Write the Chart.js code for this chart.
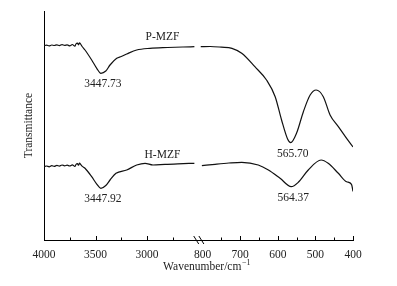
<!DOCTYPE html>
<html>
<head>
<meta charset="utf-8">
<script src="https://cdn.jsdelivr.net/npm/chart.js@4/dist/chart.umd.min.js"></script>
<style>
  body { margin: 0; background: #fff; }
  canvas { display: block; }
</style>
</head>
<body>
<canvas id="ir" width="397" height="286"></canvas>
<script>
// wavenumbers (cm-1) and transmittance (a.u.)
const pWaveLeft = [4000, 3975, 3950, 3925, 3900, 3875, 3850, 3825, 3800, 3775, 3750, 3725, 3700, 3690, 3675, 3665, 3655, 3645, 3630, 3602, 3537, 3488, 3447.73, 3400, 3359, 3294, 3250, 3197, 3100, 2971, 2800, 2650, 2540];
const pValLeft = [84.85, 85.07, 84.76, 85.15, 84.93, 85.24, 84.89, 85.33, 85.02, 85.2, 84.8, 85.37, 84.63, 85.59, 85.94, 85.24, 86.11, 85.59, 84.5, 82.97, 78.6, 74.98, 72.8, 73.8, 76.42, 79.34, 80.13, 81.22, 82.97, 83.71, 84.06, 84.28, 84.41];
const pWaveRight = [805, 780, 750, 722, 696, 661, 630, 607, 590, 574, 565.70, 550, 532, 514, 498, 479, 461, 439, 417, 400];
const pValRight = [84.41, 84.5, 84.19, 83.71, 81.53, 75.68, 69.87, 62.58, 52.4, 44.1, 42.49, 46.72, 56.03, 63.32, 65.5, 62.58, 54.59, 49.48, 44.41, 40.61];

const hWaveLeft = [4000, 3975, 3950, 3925, 3900, 3875, 3850, 3825, 3800, 3775, 3750, 3725, 3700, 3690, 3675, 3665, 3655, 3645, 3630, 3602, 3537, 3488, 3447.92, 3400, 3359, 3301, 3197, 3100, 3019, 2942, 2825, 2700, 2540];
const hValLeft = [32.01, 32.31, 31.97, 32.49, 32.18, 32.58, 32.23, 32.75, 32.4, 32.66, 32.31, 32.84, 32.1, 32.97, 33.36, 32.66, 33.54, 33.06, 32.23, 31.31, 27.64, 24.45, 22.58, 23.8, 26.2, 29.13, 30.57, 32.75, 33.49, 32.75, 33.06, 33.28, 33.49];
const hWaveRight = [802, 767, 730, 696, 652, 625, 594, 564.37, 545.5, 519, 485, 466, 439, 417, 404, 400];
const hValRight = [32.45, 33.06, 33.62, 33.93, 32.75, 30.57, 26.94, 23.28, 25.2, 30.57, 34.93, 33.49, 29.13, 25.46, 24.32, 21.18];

const seriesNames = ['P-MZF', 'H-MZF'];
const peakWaves = [[3447.73, 565.70], [3447.92, 564.37]];
const peakTexts = [['3447.73', '565.70'], ['3447.92', '564.37']];

const tickWaves = [4000, 3500, 3000, 800, 700, 600, 500, 400];
const tickLabels = ['4000', '3500', '3000', '800', '700', '600', '500', '400'];
const minorWaves = [3750, 3250, 2750, 750, 650, 550, 450];

// broken axis: 4000-2500 on the left, 800-400 stretched on the right
function toAxis(w) { return w > 1500 ? 4000 - w : 1540 + (800 - w) * 3.65; }

function build(wl, vl, wr, vr) {
  const pts = wl.map((w, i) => ({ x: toAxis(w), y: vl[i] }));
  pts.push({ x: 1500, y: null });
  return pts.concat(wr.map((w, i) => ({ x: toAxis(w), y: vr[i] })));
}
const curves = [build(pWaveLeft, pValLeft, pWaveRight, pValRight), build(hWaveLeft, hValLeft, hWaveRight, hValRight)];

const FONT = '"Liberation Serif", "Times New Roman", serif';

const decor = {
  id: 'decor',
  afterDraw(chart) {
    const ctx = chart.ctx, xs = chart.scales.x, ys = chart.scales.y;
    const base = chart.chartArea.bottom;
    ctx.save();
    ctx.strokeStyle = '#000';
    ctx.lineWidth = 1;
    // inward ticks
    tickWaves.forEach(w => {
      if (w === 4000 || w === 800) return;
      const px = Math.round(xs.getPixelForValue(toAxis(w))) + 0.5;
      ctx.beginPath(); ctx.moveTo(px, base); ctx.lineTo(px, base - 4); ctx.stroke();
    });
    minorWaves.forEach(w => {
      const px = Math.round(xs.getPixelForValue(toAxis(w))) + 0.5;
      ctx.beginPath(); ctx.moveTo(px, base); ctx.lineTo(px, base - 2.5); ctx.stroke();
    });
    // break marks
    [1478, 1528].forEach(v => {
      const px = xs.getPixelForValue(v);
      ctx.beginPath(); ctx.moveTo(px - 2.5, base - 4); ctx.lineTo(px + 2.5, base + 4); ctx.stroke();
    });
    // labels
    ctx.fillStyle = '#222';
    ctx.font = '11.5px ' + FONT;
    ctx.textAlign = 'center';
    ctx.textBaseline = 'middle';
    const data = chart.data.datasets;
    seriesNames.forEach((name, s) => {
      const ref = data[s].data.find(p => p.x === toAxis(2800) || p.x === toAxis(2825));
      ctx.fillText(name, xs.getPixelForValue(toAxis(2850)), ys.getPixelForValue(ref.y) - (s === 0 ? 11 : 9));
      peakWaves[s].forEach((w, k) => {
        const p = data[s].data.find(q => q.x === toAxis(w));
        ctx.fillText(peakTexts[s][k], xs.getPixelForValue(p.x) + 2, ys.getPixelForValue(p.y) + 11);
      });
    });
    // x title with superscript
    const cx = (xs.left + xs.right) / 2 + 8, cy = 267;
    const main = 'Wavenumber/cm';
    ctx.font = '11.5px ' + FONT;
    const wMain = ctx.measureText(main).width;
    ctx.font = '8px ' + FONT;
    const sup = '\u22121';
    const wSup = ctx.measureText(sup).width;
    const start = cx - (wMain + wSup) / 2;
    ctx.textAlign = 'left';
    ctx.font = '11.5px ' + FONT;
    ctx.fillText(main, start, cy);
    ctx.font = '8px ' + FONT;
    ctx.fillText(sup, start + wMain + 0.5, cy - 4);
    ctx.restore();
  }
};

new Chart(document.getElementById('ir'), {
  type: 'line',
  data: {
    datasets: curves.map((pts, i) => ({
      label: seriesNames[i],
      data: pts,
      borderColor: '#111',
      borderWidth: 1.2,
      pointRadius: 0,
      cubicInterpolationMode: 'monotone',
      spanGaps: false,
      fill: false
    }))
  },
  options: {
    responsive: false,
    animation: false,
    layout: { padding: { top: 11, right: 44, left: 0, bottom: 0 } },
    plugins: { legend: { display: false }, tooltip: { enabled: false } },
    scales: {
      x: {
        type: 'linear',
        min: 0,
        max: 3000,
        grid: { display: false },
        border: { display: true, color: '#000', width: 1 },
        afterBuildTicks: s => { s.ticks = tickWaves.map(w => ({ value: toAxis(w) })); },
        afterFit: s => { s.height = 46; },
        ticks: {
          autoSkip: false,
          maxRotation: 0,
          padding: 0,
          color: '#222',
          font: { family: FONT, size: 11.5 },
          callback: (v, i) => tickLabels[i]
        }
      },
      y: {
        min: 0,
        max: 100,
        grid: { display: false },
        border: { display: true, color: '#000', width: 1 },
        ticks: { display: false },
        afterFit: s => { s.width = 44; },
        title: {
          display: true,
          text: 'Transmittance',
          color: '#222',
          padding: { top: 22, bottom: 0 },
          font: { family: FONT, size: 11.5 }
        }
      }
    }
  },
  plugins: [decor]
});
</script>
</body>
</html>
